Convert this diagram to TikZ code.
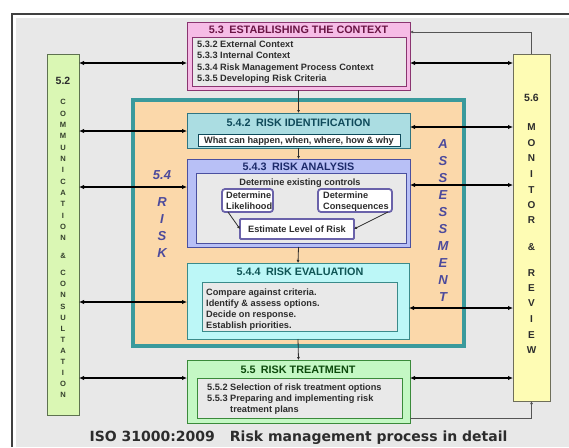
\documentclass[tikz,border=0pt]{standalone}
\usepackage{fontspec}
\setmainfont{Liberation Sans}
\newfontfamily\verd{DejaVu Sans}
\usetikzlibrary{arrows.meta}
\definecolor{bgG}{HTML}{E8E8E8}
\definecolor{innerG}{HTML}{E9E9E9}
\definecolor{borderC}{HTML}{404040}
\definecolor{greenF}{HTML}{DAF7B4}
\definecolor{greenD}{HTML}{5E7250}
\definecolor{yellowF}{HTML}{FEFCB4}
\definecolor{yellowD}{HTML}{6E6E5A}
\definecolor{pinkF}{HTML}{F6BCE6}
\definecolor{pinkD}{HTML}{8A3470}
\definecolor{pinkT}{HTML}{6B1545}
\definecolor{tealF}{HTML}{3A9A9C}
\definecolor{orangeF}{HTML}{FBD8AA}
\definecolor{ridF}{HTML}{ABDDE2}
\definecolor{ridD}{HTML}{2F7482}
\definecolor{ridT}{HTML}{0F4A5A}
\definecolor{ranF}{HTML}{B8C0F6}
\definecolor{ranD}{HTML}{4A50A0}
\definecolor{ranT}{HTML}{1C2A6A}
\definecolor{rndD}{HTML}{6A62AA}
\definecolor{revF}{HTML}{BCF7F7}
\definecolor{revD}{HTML}{3A8A8A}
\definecolor{revT}{HTML}{0F5555}
\definecolor{rtrF}{HTML}{C4F8C4}
\definecolor{rtrD}{HTML}{3A8A3A}
\definecolor{rtrT}{HTML}{0D4A0D}
\definecolor{bodyC}{HTML}{2C2C2C}
\definecolor{sideC}{HTML}{34402C}
\definecolor{bluC}{HTML}{4C4A9C}
\definecolor{fbC}{HTML}{555555}
\tikzset{
  bx/.style={draw, line width=1pt, inner sep=0pt, outer sep=0pt, anchor=north west},
  rbx/.style={bx, rounded corners=3pt, line width=1.8pt, draw=rndD, fill=white},
  ttl/.style={font=\fontsize{10.8}{12}\selectfont\bfseries, inner sep=0pt, text height=7.7pt, text depth=0pt},
  body/.style={font=\fontsize{9.2}{11}\selectfont\bfseries, text=bodyC, inner sep=0pt, text height=6.6pt, text depth=0pt, anchor=west},
  sidel/.style={font=\fontsize{7.6}{8}\selectfont\bfseries, text=sideC, inner sep=0pt, text height=5.4pt, text depth=0pt},
  sider/.style={font=\fontsize{10}{11}\selectfont\bfseries, text=bodyC, inner sep=0pt, text height=7.2pt, text depth=0pt},
  blu/.style={font=\fontsize{13}{14}\selectfont\bfseries\itshape, text=bluC, inner sep=0pt, text height=9.3pt, text depth=0pt},
  dbl/.style={line width=1.3pt, {Latex[length=5pt,width=4.5pt]}-{Latex[length=5pt,width=4.5pt]}},
  conn/.style={line width=0.8pt, draw=bodyC, -{Latex[length=3pt,width=3pt]}},
  fb/.style={line width=0.8pt, draw=fbC, -{Latex[length=3pt,width=3pt]}}
}
\begin{document}
\begin{tikzpicture}[x=1pt,y=-1pt]
\useasboundingbox (0,0) rectangle (569,447);
\fill[white] (0,0) rectangle (569,447);
\fill[bgG] (16,18) rectangle (569,447);
\draw[line width=1.5pt, borderC] (12,447) -- (12,14) -- (569,14);

% risk assessment frame
\node[bx, draw=tealF, line width=4pt, fill=orangeF, minimum width=331pt, minimum height=246pt] (frame) at (133,100) {};

% side columns
\node[bx, draw=greenD, fill=greenF, minimum width=32pt, minimum height=361pt] (comm) at (47,54) {};
\node[bx, draw=yellowD, fill=yellowF, minimum width=37pt, minimum height=347pt] (mon) at (513,54) {};
\node[font=\fontsize{10.5}{12}\selectfont\bfseries, text=bodyC, inner sep=0pt, text height=7.5pt, text depth=0pt] (c52) at (63,81) {5.2};
\node[font=\fontsize{10.5}{12}\selectfont\bfseries, text=bodyC, inner sep=0pt, text height=7.5pt, text depth=0pt] (m56) at (531.5,98) {5.6};
\foreach \l [count=\i from 0] in {C,O,M,M,U,N,I,C,A,T,I,O,N}
  \node[sidel] (ca\i) at (63,{102+11.33*\i}) {\l};
\node[sidel] (camp) at (63,256) {\&};
\foreach \l [count=\i from 0] in {C,O,N,S,U,L,T,A,T,I,O,N}
  \node[sidel] (cb\i) at (63,{273+11.1*\i}) {\l};
\foreach \l/\yy [count=\i] in {M/127,O/143,N/158,I/174,T/190,O/205,R/220,\&/247,R/273,E/288,V/303,I/319,E/335,W/350}
  \node[sider] (mr\i) at (531.5,\yy) {\l};

% blue italic letters
\node[blu] (b54) at (162,175) {5.4};
\foreach \l/\yy [count=\i] in {R/202,I/219,S/236,K/253}
  \node[blu] (br\i) at (162,\yy) {\l};
\foreach \l/\yy [count=\i] in {A/144,S/161,S/178,E/195,S/212,S/229,M/246,E/263,N/280,T/297}
  \node[blu] (ba\i) at (443,\yy) {\l};

% 5.3 context
\node[bx, draw=pinkD, fill=pinkF, minimum width=223pt, minimum height=68pt] (ctx) at (187,22) {};
\node[ttl, text=pinkT] (ctxt) at (298.5,30) {5.3\enspace ESTABLISHING THE CONTEXT};
\node[bx, draw=pinkD, fill=innerG, minimum width=214pt, minimum height=49pt] (ctxi) at (192,37) {};
\node[body] (ctx1) at (197,44) {5.3.2 External Context};
\node[body] (ctx2) at (197,55) {5.3.3 Internal Context};
\node[body] (ctx3) at (197,67) {5.3.4 Risk Management Process Context};
\node[body] (ctx4) at (197,78) {5.3.5 Developing Risk Criteria};

% 5.4.2 identification
\node[bx, draw=ridD, fill=ridF, minimum width=223pt, minimum height=35pt] (rid) at (187,113) {};
\node[ttl, text=ridT] (ridt) at (298.5,123) {5.4.2\enspace RISK IDENTIFICATION};
\node[bx, draw=ridT, fill=white, minimum width=202pt, minimum height=12pt] (ridi) at (198,134) {};
\node[body, anchor=center] (rid1) at (299,140) {What can happen, when, where, how \& why};

% 5.4.3 analysis
\node[bx, draw=ranD, fill=ranF, minimum width=223pt, minimum height=88pt] (ran) at (187,159) {};
\node[ttl, text=ranT] (rant) at (298.5,167) {5.4.3\enspace RISK ANALYSIS};
\node[bx, draw=ranD, fill=innerG, minimum width=210pt, minimum height=70pt] (rani) at (196,173) {};
\node[body, anchor=center] (ran1) at (300,182) {Determine existing controls};
\node[rbx, minimum width=51pt, minimum height=23pt] (lik) at (222,189) {};
\node[body] (lik1) at (226,195) {Determine};
\node[body] (lik2) at (226,206.5) {Likelihood};
\node[rbx, minimum width=74pt, minimum height=23pt] (con) at (318,189) {};
\node[body] (con1) at (323,195) {Determine};
\node[body] (con2) at (323,206.5) {Consequences};
\node[rbx, rounded corners=1pt, minimum width=114pt, minimum height=20pt] (est) at (240,219) {};
\node[body, anchor=center] (est1) at (297,229) {Estimate Level of Risk};
\draw[conn] ([xshift=6pt]lik.south west) -- (est.west);
\draw[conn] ([xshift=-4pt]con.south east) -- (est.east);

% 5.4.4 evaluation
\node[bx, draw=revD, fill=revF, minimum width=222pt, minimum height=76pt] (rev) at (187,263) {};
\node[ttl, text=revT] (revt) at (300,272) {5.4.4\enspace RISK EVALUATION};
\node[bx, draw=revD, fill=innerG, minimum width=195pt, minimum height=49pt] (revi) at (202,282) {};
\node[body] (rev1) at (206,292) {Compare against criteria.};
\node[body] (rev2) at (206,303) {Identify \& assess options.};
\node[body] (rev3) at (206,314) {Decide on response.};
\node[body] (rev4) at (206,325) {Establish priorities.};

% 5.5 treatment
\node[bx, draw=rtrD, fill=rtrF, minimum width=223pt, minimum height=63pt] (rtr) at (187,360) {};
\node[ttl, text=rtrT] (rtrt) at (298,370) {5.5\enspace RISK TREATMENT};
\node[bx, draw=rtrD, fill=innerG, minimum width=205pt, minimum height=40pt] (rtri) at (197,378) {};
\node[body] (rtr1) at (207,387) {5.5.2 Selection of risk treatment options};
\node[body] (rtr2) at (207,398) {5.5.3 Preparing and implementing risk};
\node[body] (rtr3) at (230,409) {treatment plans};

% vertical connectors
\draw[conn] (ctx.south) -- (rid.north);
\draw[conn] (rid.south) -- (ran.north);
\draw[conn] (ran.south) -- (rev.north);
\draw[conn] (rev.south) -- (rtr.north);

% feedback from monitor & review
\draw[fb] (mon.north) |- ([yshift=-10pt]ctx.north east);
\draw[fb] ([yshift=5pt]rtr.south east) -| (mon.south);

% double arrows
\draw[dbl] (comm.east |- 0,63) -- (ctx.west |- 0,63);
\draw[dbl] (ctx.east |- 0,63) -- (mon.west |- 0,63);
\draw[dbl] (comm.east |- 0,131) -- (rid.west |- 0,131);
\draw[dbl] (rid.east |- 0,127) -- (mon.west |- 0,127);
\draw[dbl] (comm.east |- 0,187) -- (ran.west |- 0,187);
\draw[dbl] (ran.east |- 0,185) -- (mon.west |- 0,185);
\draw[dbl] (comm.east |- 0,302) -- (rev.west |- 0,302);
\draw[dbl] (rev.east |- 0,308) -- (mon.west |- 0,308);
\draw[dbl] (comm.east |- 0,378) -- (rtr.west |- 0,378);
\draw[dbl] (rtr.east |- 0,378) -- (mon.west |- 0,378);

% caption
\node[font=\verd\bfseries\fontsize{14}{16}\selectfont, text=bodyC, inner sep=0pt, text height=10.2pt, text depth=0pt] (cap) at (298.5,436) {ISO 31000:2009\hspace{15pt}Risk management process in detail};
\end{tikzpicture}
\end{document}
